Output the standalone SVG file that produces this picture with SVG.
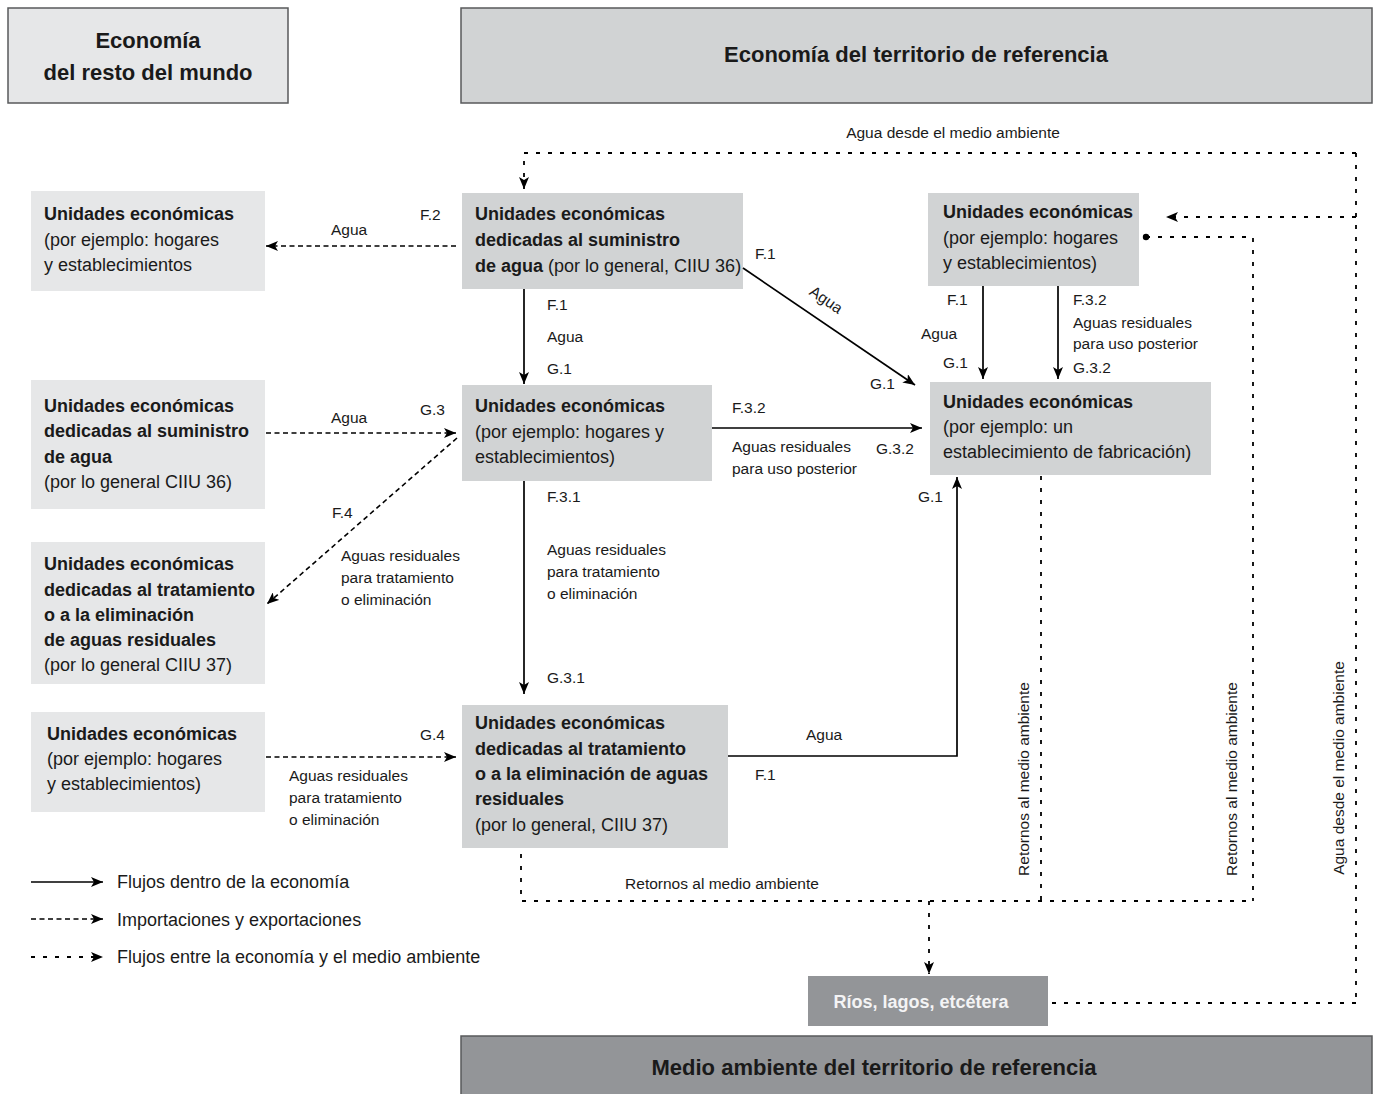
<svg xmlns="http://www.w3.org/2000/svg" width="1374" height="1094" viewBox="0 0 1374 1094">
<style>
text{font-family:"Liberation Sans",Arial,sans-serif;fill:#1a1a1a}
.t{font-size:18px}
.b{font-weight:bold}
.s{font-size:15.5px}
.h{font-size:22px;font-weight:bold;text-anchor:middle}
.lg{font-size:18px}
.l1{fill:#e6e7e8}
.l2{fill:#d1d3d4}
.l3{fill:#939598}
.frame{stroke:#58595b;stroke-width:1.5}
.sol{stroke:#000;stroke-width:1.7;fill:none}
.imp{stroke:#000;stroke-width:1.6;stroke-dasharray:5 3.5;fill:none}
.env{stroke:#000;stroke-width:1.8;stroke-dasharray:4 8;fill:none}
</style>
<defs>
<marker id="ah" viewBox="0 0 12 10" refX="12" refY="5" markerWidth="12" markerHeight="10" markerUnits="userSpaceOnUse" orient="auto">
<path d="M0,0 L12,5 L0,10 L3,5 z" fill="#000"/>
</marker>
</defs>

<g id="hdr-resto">
<rect x="8" y="8" width="280" height="95" class="l1 frame"/>
<text class="h" x="148" y="48">Economía</text>
<text class="h" x="148" y="80">del resto del mundo</text>
</g>
<g id="hdr-territorio">
<rect x="461" y="8" width="911" height="95" class="l2 frame"/>
<text class="h" x="916" y="62">Economía del territorio de referencia</text>
</g>
<g id="hdr-medio">
<rect x="461" y="1036" width="911" height="62" class="l3 frame"/>
<text class="h" x="874" y="1075">Medio ambiente del territorio de referencia</text>
</g>
<g id="rios">
<rect x="808" y="976" width="240" height="50" class="l3"/>
<text class="t b" x="921" y="1008" text-anchor="middle" style="fill:#f4f4f5">Ríos, lagos, etcétera</text>
</g>

<g id="L1">
<rect x="31" y="191" width="234" height="100" class="l1"/>
<text class="t b" x="44" y="220">Unidades económicas</text>
<text class="t" x="44" y="246">(por ejemplo: hogares</text>
<text class="t" x="44" y="271">y establecimientos</text>
</g>
<g id="L2">
<rect x="31" y="380" width="234" height="129" class="l1"/>
<text class="t b" x="44" y="412">Unidades económicas</text>
<text class="t b" x="44" y="437">dedicadas al suministro</text>
<text class="t b" x="44" y="463">de agua</text>
<text class="t" x="44" y="488">(por lo general CIIU 36)</text>
</g>
<g id="L3">
<rect x="31" y="542" width="234" height="142" class="l1"/>
<text class="t b" x="44" y="570">Unidades económicas</text>
<text class="t b" x="44" y="596">dedicadas al tratamiento</text>
<text class="t b" x="44" y="621">o a la eliminación</text>
<text class="t b" x="44" y="646">de aguas residuales</text>
<text class="t" x="44" y="671">(por lo general CIIU 37)</text>
</g>
<g id="L4">
<rect x="31" y="712" width="234" height="100" class="l1"/>
<text class="t b" x="47" y="740">Unidades económicas</text>
<text class="t" x="47" y="765">(por ejemplo: hogares</text>
<text class="t" x="47" y="790">y establecimientos)</text>
</g>

<g id="C1">
<rect x="462" y="193" width="281" height="96" class="l2"/>
<text class="t b" x="475" y="220">Unidades económicas</text>
<text class="t b" x="475" y="246">dedicadas al suministro</text>
<text class="t" x="475" y="272"><tspan class="b">de agua</tspan> (por lo general, CIIU 36)</text>
</g>
<g id="C2">
<rect x="462" y="385" width="250" height="96" class="l2"/>
<text class="t b" x="475" y="412">Unidades económicas</text>
<text class="t" x="475" y="438">(por ejemplo: hogares y</text>
<text class="t" x="475" y="463">establecimientos)</text>
</g>
<g id="C3">
<rect x="462" y="705" width="266" height="143" class="l2"/>
<text class="t b" x="475" y="729">Unidades económicas</text>
<text class="t b" x="475" y="755">dedicadas al tratamiento</text>
<text class="t b" x="475" y="780">o a la eliminación de aguas</text>
<text class="t b" x="475" y="805">residuales</text>
<text class="t" x="475" y="831">(por lo general, CIIU 37)</text>
</g>
<g id="R1">
<rect x="928" y="193" width="211" height="93" class="l2"/>
<text class="t b" x="943" y="218">Unidades económicas</text>
<text class="t" x="943" y="244">(por ejemplo: hogares</text>
<text class="t" x="943" y="269">y establecimientos)</text>
</g>
<g id="R2">
<rect x="930" y="382" width="281" height="93" class="l2"/>
<text class="t b" x="943" y="408">Unidades económicas</text>
<text class="t" x="943" y="433">(por ejemplo: un</text>
<text class="t" x="943" y="458">establecimiento de fabricación)</text>
</g>

<g id="connectors">
<!-- solid flows -->
<line class="sol" x1="524" y1="289" x2="524" y2="384" marker-end="url(#ah)"/>
<line class="sol" x1="743" y1="268" x2="915" y2="385" marker-end="url(#ah)"/>
<line class="sol" x1="983" y1="286" x2="983" y2="379" marker-end="url(#ah)"/>
<line class="sol" x1="1058" y1="286" x2="1058" y2="379" marker-end="url(#ah)"/>
<line class="sol" x1="712" y1="428" x2="922" y2="428" marker-end="url(#ah)"/>
<line class="sol" x1="524" y1="481" x2="524" y2="694" marker-end="url(#ah)"/>
<polyline class="sol" points="728,756 957,756 957,477" marker-end="url(#ah)"/>

<!-- imports / exports -->
<line class="imp" x1="456" y1="246" x2="266" y2="246" marker-end="url(#ah)"/>
<line class="imp" x1="266" y1="433" x2="456" y2="433" marker-end="url(#ah)"/>
<line class="imp" x1="457" y1="438" x2="267" y2="604" marker-end="url(#ah)"/>
<line class="imp" x1="266" y1="757" x2="456" y2="757" marker-end="url(#ah)"/>

<!-- environment flows -->
<polyline class="env" points="1356,153 524,153 524,189" marker-end="url(#ah)"/>
<line class="env" x1="1356" y1="153" x2="1356" y2="1003"/>
<line class="env" x1="1356" y1="1003" x2="1048" y2="1003"/>
<line class="env" x1="1356" y1="217" x2="1166" y2="217" marker-end="url(#ah)"/>
<circle cx="1146" cy="237" r="3.2" fill="#000"/>
<polyline class="env" points="1146,237 1253,237 1253,901"/>
<line class="env" x1="1041" y1="476" x2="1041" y2="901"/>
<polyline class="env" points="521,854 521,901 1253,901"/>
<line class="env" x1="929" y1="901" x2="929" y2="974" marker-end="url(#ah)"/>

<!-- legend lines -->
<line class="sol" x1="31" y1="882" x2="103" y2="882" marker-end="url(#ah)"/>
<line class="imp" x1="31" y1="919" x2="103" y2="919" marker-end="url(#ah)"/>
<line class="env" x1="31" y1="957" x2="103" y2="957" marker-end="url(#ah)"/>
</g>

<g id="labels">
<text class="s" x="420" y="220">F.2</text>
<text class="s" x="331" y="235">Agua</text>
<text class="s" x="331" y="423">Agua</text>
<text class="s" x="420" y="415">G.3</text>
<text class="s" x="332" y="518">F.4</text>
<text class="s" x="341" y="561">Aguas residuales</text>
<text class="s" x="341" y="583">para tratamiento</text>
<text class="s" x="341" y="605">o eliminación</text>
<text class="s" x="420" y="740">G.4</text>
<text class="s" x="289" y="781">Aguas residuales</text>
<text class="s" x="289" y="803">para tratamiento</text>
<text class="s" x="289" y="825">o eliminación</text>

<text class="s" x="547" y="310">F.1</text>
<text class="s" x="547" y="342">Agua</text>
<text class="s" x="547" y="374">G.1</text>
<text class="s" x="755" y="259">F.1</text>
<text class="s" x="826" y="305" text-anchor="middle" transform="rotate(34 826 300)">Agua</text>
<text class="s" x="870" y="389">G.1</text>

<text class="s" x="947" y="305">F.1</text>
<text class="s" x="921" y="339">Agua</text>
<text class="s" x="943" y="368">G.1</text>
<text class="s" x="1073" y="305">F.3.2</text>
<text class="s" x="1073" y="328">Aguas residuales</text>
<text class="s" x="1073" y="349">para uso posterior</text>
<text class="s" x="1073" y="373">G.3.2</text>

<text class="s" x="732" y="413">F.3.2</text>
<text class="s" x="732" y="452">Aguas residuales</text>
<text class="s" x="732" y="474">para uso posterior</text>
<text class="s" x="876" y="454">G.3.2</text>

<text class="s" x="547" y="502">F.3.1</text>
<text class="s" x="547" y="555">Aguas residuales</text>
<text class="s" x="547" y="577">para tratamiento</text>
<text class="s" x="547" y="599">o eliminación</text>
<text class="s" x="547" y="683">G.3.1</text>

<text class="s" x="806" y="740">Agua</text>
<text class="s" x="755" y="780">F.1</text>
<text class="s" x="918" y="502">G.1</text>

<text class="s" x="953" y="138" text-anchor="middle">Agua desde el medio ambiente</text>
<text class="s" x="722" y="889" text-anchor="middle">Retornos al medio ambiente</text>
<text class="s" x="1029" y="779" text-anchor="middle" transform="rotate(-90 1029 779)">Retornos al medio ambiente</text>
<text class="s" x="1237" y="779" text-anchor="middle" transform="rotate(-90 1237 779)">Retornos al medio ambiente</text>
<text class="s" x="1344" y="768" text-anchor="middle" transform="rotate(-90 1344 768)">Agua desde el medio ambiente</text>

<text class="lg" x="117" y="888">Flujos dentro de la economía</text>
<text class="lg" x="117" y="926">Importaciones y exportaciones</text>
<text class="lg" x="117" y="963">Flujos entre la economía y el medio ambiente</text>
</g>
</svg>
